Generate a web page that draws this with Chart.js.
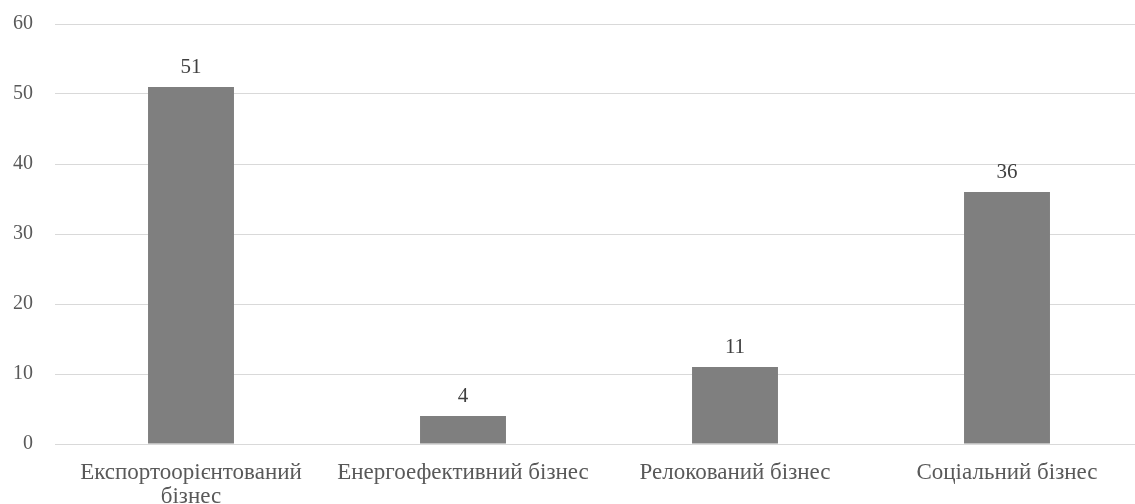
<!DOCTYPE html>
<html>
<head>
<meta charset="utf-8">
<script src="https://cdn.jsdelivr.net/npm/chart.js@4/dist/chart.umd.min.js"></script>
<style>
html,body{margin:0;padding:0;background:#fff;overflow:hidden;}
#wrap{width:1150px;height:504px;position:relative;}
</style>
</head>
<body>
<div id="wrap"><canvas id="c"></canvas></div>
<script>
const categories = [["Експортоорієнтований", "бізнес"], "Енергоефективний бізнес", "Релокований бізнес", "Соціальний бізнес"];
const values = [51, 4, 11, 36];
const yTicks = [0, 10, 20, 30, 40, 50, 60];

const FONT = "'Liberation Serif', 'Times New Roman', serif";

const labelPlugin = {
  id: 'valueLabels',
  afterDatasetsDraw(chart) {
    const ctx = chart.ctx;
    const meta = chart.getDatasetMeta(0);
    ctx.save();
    ctx.font = "21px " + FONT;
    ctx.fillStyle = "#404040";
    ctx.textAlign = "center";
    ctx.textBaseline = "alphabetic";
    meta.data.forEach((bar, i) => {
      ctx.fillText(String(values[i]), bar.x, bar.y - 14);
    });
    ctx.restore();
  }
};

new Chart(document.getElementById('c'), {
  type: 'bar',
  data: {
    labels: categories,
    datasets: [{
      data: values,
      backgroundColor: '#7f7f7f',
      borderWidth: 0,
      barPercentage: 0.316,
      categoryPercentage: 1.0
    }]
  },
  options: {
    responsive: true,
    maintainAspectRatio: false,
    animation: false,
    devicePixelRatio: 1,
    layout: { padding: { top: 24, right: 7, left: 0, bottom: 0 } },
    plugins: { legend: { display: false }, tooltip: { enabled: false } },
    scales: {
      x: {
        grid: { display: false },
        border: { display: false },
        ticks: {
          color: '#595959',
          font: { family: FONT, size: 23, lineHeight: 1.05 },
          maxRotation: 0,
          autoSkip: false,
          padding: 9
        },
        afterFit(scale) { scale.height = 60; scale.paddingLeft = 0; scale.paddingRight = 0; }
      },
      y: {
        min: 0, max: 60,
        afterBuildTicks(scale) { scale.ticks = yTicks.map(v => ({ value: v })); },
        grid: { color: '#d9d9d9', lineWidth: 1, drawTicks: false },
        border: { display: false },
        ticks: {
          color: '#595959',
          font: { family: FONT, size: 20 },
          padding: 22
        },
        afterFit(scale) { scale.width = 55; scale.paddingTop = 0; scale.paddingBottom = 0; }
      }
    }
  },
  plugins: [labelPlugin]
});
</script>
</body>
</html>
